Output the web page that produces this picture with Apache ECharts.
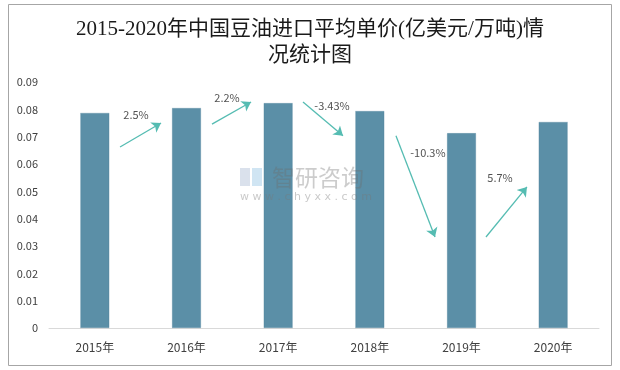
<!DOCTYPE html>
<html><head><meta charset="utf-8">
<script src="https://cdn.jsdelivr.net/npm/echarts@6/dist/echarts.min.js"></script>
<style>html,body{margin:0;padding:0;background:#fff}#c{width:620px;height:370px}</style>
</head><body><div id="c"></div>
<script>
const titleText = '2015-2020年中国豆油进口平均单价(亿美元/万吨)情\n况统计图';
const categories = ['2015年','2016年','2017年','2018年','2019年','2020年'];
const prices = [0.0787, 0.0805, 0.0823, 0.0794, 0.0713, 0.0754];
const yTicks = {min: 0, max: 0.09, interval: 0.01};
// growth annotations: arrow start/end in (category position, value) space, label position
const growthLabels = ['2.5%', '2.2%', '-3.43%', '-10.3%', '5.7%'];
const arrowFrom = [[0.775, 0.0662], [1.778, 0.0746], [2.771, 0.0827], [3.785, 0.0703], [4.767, 0.0333]];
const arrowTo   = [[1.222, 0.0750], [2.204, 0.0827], [3.207, 0.0703], [4.211, 0.0333], [5.214, 0.0516]];
const labelPos  = [[0.949, 0.0779], [1.942, 0.0842], [3.087, 0.0812], [4.134, 0.0640], [4.920, 0.0549]];

const chart = echarts.init(document.getElementById('c'));
chart.setOption({
  animation: false,
  backgroundColor: '#fff',
  title: {
    text: titleText, left: 'center', top: 11,
    textStyle: {fontFamily: '"Liberation Serif","Noto Sans CJK SC",serif', fontSize: 21, fontWeight: 'normal', color: '#1a1a1a', lineHeight: 26}
  },
  grid: {left: 49, right: 21, top: 82, bottom: 42},
  xAxis: [
    {type: 'category', data: categories,
     axisLine: {lineStyle: {color: '#d9d9d9'}}, axisTick: {show: false},
     axisLabel: {fontSize: 12, color: '#404040', margin: 13, fontFamily: '"Noto Sans CJK SC",sans-serif'}},
    {type: 'value', min: 0, max: 6, show: false}
  ],
  yAxis: {type: 'value', min: yTicks.min, max: yTicks.max, interval: yTicks.interval,
    axisLine: {show: false}, axisTick: {show: false}, splitLine: {show: false},
    axisLabel: {fontSize: 11, color: '#404040', margin: 11, fontFamily: '"Noto Sans CJK SC",sans-serif'}},
  series: [
    {type: 'bar', data: prices, barWidth: 29, xAxisIndex: 0,
     itemStyle: {color: '#5b8fa7', borderColor: '#4d7f97', borderWidth: 0.5, borderType: 'dotted'}},
    {type: 'lines', coordinateSystem: 'cartesian2d', xAxisIndex: 1, yAxisIndex: 0,
     symbol: ['none', 'arrow'], symbolSize: 9,
     lineStyle: {color: '#55bcb2', width: 1.3, opacity: 1},
     data: arrowFrom.map((f, i) => ({coords: [f, arrowTo[i]]})), z: 5},
    {type: 'scatter', xAxisIndex: 1, yAxisIndex: 0, symbolSize: 0, silent: true,
     data: labelPos.map((p, i) => ({value: p, name: growthLabels[i]})),
     label: {show: true, position: 'inside', formatter: p => p.name, fontSize: 11, color: '#262626', fontFamily: '"Noto Sans CJK SC",sans-serif'}, z: 6}
  ],
  graphic: [
    {type: 'rect', shape: {x: 8.5, y: 4.5, width: 603, height: 361}, style: {fill: 'none', stroke: '#a6a6a6', lineWidth: 1}, silent: true, z: 0},
    {type: 'rect', shape: {x: 240, y: 168, width: 10, height: 18}, style: {fill: 'rgba(150,170,200,0.35)'}, silent: true, z: 10},
    {type: 'rect', shape: {x: 252, y: 168, width: 10, height: 18}, style: {fill: 'rgba(120,180,220,0.35)'}, silent: true, z: 10},
    {type: 'text', x: 272, y: 166, style: {text: '智研咨询', fontSize: 23, fill: 'rgba(110,110,110,0.35)', fontFamily: '"Noto Sans CJK SC",sans-serif', letterSpacing: 5}, silent: true, z: 10},
    {type: 'text', x: 240, y: 192, style: {text: 'w w w . c h y x x . c o m', fontSize: 11, fill: 'rgba(120,120,120,0.4)', fontFamily: 'DejaVu Sans'}, silent: true, z: 10}
  ]
});
</script></body></html>
